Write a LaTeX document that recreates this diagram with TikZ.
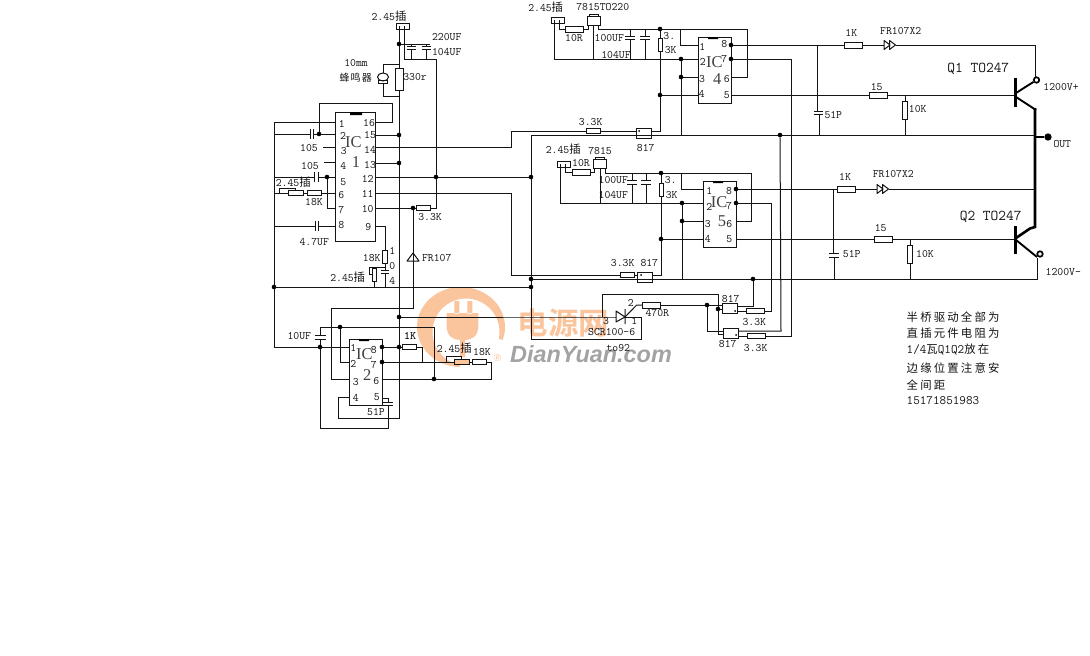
\documentclass[tikz,border=0pt]{standalone}
\usepackage{fontspec}
\usetikzlibrary{shapes.geometric}
\newfontfamily\cjk[LetterSpace=12]{Noto Sans CJK SC}
\newfontfamily\cjkn[LetterSpace=19]{Noto Sans CJK SC}
\newfontfamily\cjkb{Noto Sans CJK SC Bold}[AutoFakeSlant=0.2,AutoFakeBold=1.5]
\newfontfamily\wmlat{Liberation Sans}[Scale=1]
\newfontfamily\icfont{Liberation Serif}
\definecolor{wmo}{HTML}{FAC49C}
\definecolor{wmg}{HTML}{A3A3A3}
\definecolor{ink}{HTML}{141414}
\tikzset{
  wire/.style={draw=ink,line width=1pt,line join=miter},
  thick wire/.style={draw=black,line width=2.6pt},
  mid wire/.style={draw=black,line width=1.9pt},
  res/.style 2 args={draw=ink,line width=1pt,rectangle,inner sep=0pt,outer sep=0pt,minimum width=#1,minimum height=#2},
  dot/.style={circle,fill=black,inner sep=0pt,minimum size=4.6pt,outer sep=0pt},
  term/.style={circle,draw=black,line width=1.7pt,inner sep=0pt,minimum size=5.5pt},
  lbl/.style={inner sep=0pt,font=\ttfamily\fontsize{11.4}{12}\selectfont,text=ink},
  note/.style={inner sep=0pt,anchor=west,font=\ttfamily\fontsize{12.8}{13}\selectfont,text=ink},
  big/.style={inner sep=0pt,font=\icfont\fontsize{16.5}{17}\selectfont,text=black!75},
  qlbl/.style={inner sep=0pt,font=\ttfamily\fontsize{15}{16}\selectfont,text=ink},
}
\newcounter{tn}
\newcommand\T[3]{\stepcounter{tn}\node[lbl] (t\arabic{tn}) at (#1,#2) {#3};}
\newcommand\TB[3]{\stepcounter{tn}\node[big] (t\arabic{tn}) at (#1,#2) {#3};}
\newcommand\TW[3]{\stepcounter{tn}\node[note] (t\arabic{tn}) at (#1,#2) {#3};}
% horizontal-plate capacitor: name,x,y top,y bottom,half width
\newcommand\capH[5]{\coordinate (#1a) at (#2,#3);\coordinate (#1b) at (#2,#4);
  \draw[wire] (#2-#5,#3)--(#2+#5,#3) (#2-#5,#4)--(#2+#5,#4);}
% vertical-plate capacitor: name,x left,x right,y,half height
\newcommand\capV[5]{\coordinate (#1a) at (#2,#4);\coordinate (#1b) at (#3,#4);
  \draw[wire] (#2,#4-#5)--(#2,#4+#5) (#3,#4-#5)--(#3,#4+#5);}
% double diode: name,x,y
\newcommand\dbl[3]{\coordinate (#1a) at (#2,#3);\coordinate (#1b) at (#2+11.5,#3);
  \draw[wire,line join=round] (#2,#3-4.5)--(#2+6,#3)--(#2,#3+4.5)--cycle (#2+5.5,#3-4.5)--(#2+11.5,#3)--(#2+5.5,#3+4.5)--cycle;}
\begin{document}
\begin{tikzpicture}[x=1pt,y=-1pt]
\useasboundingbox (0,0) rectangle (1090,656);
\fill[white] (0,0) rectangle (1090,656);
% --- watermark
\fill[wmo,even odd rule] (461,327) ellipse [x radius=44,y radius=40] (466,332) circle [radius=33.5];
\fill[white] (466,333) -- (456,390) -- (530,390) -- (530,345) -- cycle;
\fill[wmo] (454.3,301) rectangle (459.3,314) (467.3,301) rectangle (472.3,314)
  (446.7,313) -- (478.3,313) -- (478.3,326) .. controls (478.3,336) and (472,340) .. (465,340) -- (465,357) -- (460,357) -- (460,340) .. controls (453,340) and (446.7,336) .. (446.7,326) -- cycle;
\node[inner sep=0pt,text=wmo,font=\cjkb\fontsize{30.5}{30}\selectfont] (wm1) at (563.5,323) {电源网};
\node[inner sep=0pt,text=wmg,font=\wmlat\bfseries\itshape\fontsize{23.4}{24}\selectfont] (wm2) at (591,354.5) {DianYuan.com};
\node[inner sep=0pt,text=wmo,font=\wmlat\fontsize{10}{10}\selectfont] (wm3) at (497.5,358) {®};

% --- coordinates of IC pins
\foreach \n/\y in {1/122,2/134,3/147,4/162,5/177,6/193,7/208,8/226} \coordinate (a\n) at (335,\y);
\foreach \n/\y in {16/122,15/135,14/147,13/163,12/177,11/193,10/208,9/226} \coordinate (a\n) at (375,\y);
\foreach \n/\y in {1/347,2/362,3/379,4/397} \coordinate (b\n) at (349,\y);
\foreach \n/\y in {8/347,7/362,6/379,5/398} \coordinate (b\n) at (382,\y);
\foreach \n/\y in {1/45,2/59,3/77,4/95} \coordinate (d\n) at (698,\y);
\foreach \n/\y in {8/45,7/59,6/77,5/95} \coordinate (d\n) at (731,\y);
\foreach \n/\y in {1/189,2/203,3/221,4/239} \coordinate (e\n) at (703,\y);
\foreach \n/\y in {8/189,7/203,6/221,5/239} \coordinate (e\n) at (736,\y);

% --- ICs
\node[res={40pt}{129pt}] (ic1) at (355,176.5) {};
\node[res={33pt}{66pt}] (ic2) at (365.5,372) {};
\node[res={33pt}{66pt}] (ic4) at (714.5,70) {};
\node[res={33pt}{66pt}] (ic5) at (719.5,214) {};
\fill[black] (350,112) rectangle (362,115) (359,339) rectangle (369,341) (708,37) rectangle (718,39) (713,181) rectangle (723,183);

% --- junctions
\foreach \n/\x/\y in {jA/399/44,jB/399/135,jC/399/163,jD/399/347,jE/399/317,
  jF/319/134,jG/327/177,jH/436/177,jI/413/208,jK/274/287,jL/320/347,jM/340/327,
  jN/382/347,jO/382/362,jP/434/379,jQ/531/177,jR/531/279,jS/531/287,
  jT/660/29,jU/660/95,jV/681/59,jW/681/77,jX/731/45,jY/731/59,
  jZ/661/173,ka/661/239,kb/682/203,kc/682/221,kd/736/189,ke/736/203,
  kf/780/135,kg/753/279,kh/707/305,ki/718/309}
  \node[dot] (\n) at (\x,\y) {};

% --- resistors
\node[res={8pt}{22.5pt}] (r330) at (399,79.5) {};
\node[res={14.5pt}{4.5pt}] (r6a) at (296,193) {};
\node[res={14.5pt}{4.5pt}] (r6b) at (314.5,193) {};
\node[res={14pt}{4.5pt}] (r33a) at (423.5,208) {};
\node[res={4.5pt}{13pt}] (r18) at (385,257) {};
\node[res={4pt}{13pt}] (r18b) at (374,275) {};
\node[res={14.5pt}{5pt}] (r1k) at (409.5,347) {};
\node[res={15.5pt}{4.5pt},fill=wmo] (rb1) at (462,362) {};
\node[res={14.5pt}{5pt}] (rb2) at (479.5,362) {};
\node[res={14.5pt}{5pt}] (r33b) at (593.5,131) {};
\node[res={14.5pt}{5pt}] (r33c) at (627.5,275) {};
\node[res={18pt}{6pt}] (r10a) at (574,29) {};
\node[res={18pt}{6pt}] (r10b) at (581,172) {};
\node[res={4pt}{13pt}] (r3a) at (660,45) {};
\node[res={4pt}{13pt}] (r3b) at (661,189.5) {};
\node[res={18pt}{6pt}] (r470) at (651,305) {};
\node[res={18.5pt}{4.5pt}] (r33d) at (755.5,311) {};
\node[res={18.5pt}{4.5pt}] (r33e) at (756.5,336) {};
\node[res={18.5pt}{6pt}] (r1ka) at (853.5,45) {};
\node[res={18.5pt}{6pt}] (r1kb) at (846.5,189) {};
\node[res={18.5pt}{6pt}] (r15a) at (878.5,95) {};
\node[res={18.5pt}{6pt}] (r15b) at (883.5,239) {};
\node[res={5.5pt}{18pt}] (r10ka) at (905,110) {};
\node[res={5.5pt}{18pt}] (r10kb) at (910,254) {};

% --- connectors, regulators, optos
\node[res={13pt}{6pt}] (c0) at (403,26) {};
\node[res={13pt}{6pt}] (c4) at (558,20.5) {};
\node[res={13pt}{6pt}] (c5) at (564,164.5) {};
\node[res={13pt}{9pt}] (u4) at (593.5,20.5) {};
\node[res={9pt}{2pt}] (u4t) at (593.5,15) {};
\node[res={13pt}{8.5pt}] (u5) at (599.5,164) {};
\node[res={9pt}{2pt}] (u5t) at (599.5,158.8) {};
\node[res={15.5pt}{10pt}] (o1) at (644,133.3) {};
\node[res={15.5pt}{10.5pt}] (o2) at (645,277.5) {};
\node[res={15.5pt}{10pt}] (o3) at (730,308.3) {};
\node[res={15.5pt}{10pt}] (o4) at (731,333.3) {};
\fill[black] (639,131) circle (1) (641,275) circle (1) (735,311) circle (1) (736,335) circle (1);

% --- capacitors
\capH{ca}{411}{46}{49}{4.5}\capH{cb}{426}{46}{49}{4.5}
\capV{c2}{310}{313}{134}{5}\capV{c5x}{314}{318}{177}{5}\capV{c8}{315}{318}{226}{5}
\capH{c9}{385}{270}{273}{4}
\capH{c10}{320}{335}{339}{5.5}\capH{c51}{388}{402}{405}{5}
\capH{cd}{630}{36}{39}{5}\capH{ce}{645}{36}{39}{5}
\capH{cf}{632}{180}{184}{5}\capH{cg}{646}{180}{184}{5}
\capH{ch}{818}{111}{114}{4.5}\capH{ci}{834}{253}{257}{5}

% --- double diodes
\dbl{da}{884}{45}\dbl{db}{877}{189}

% --- top power and IC1
\draw[wire] (399,26)--(jA)--(r330.north) (r330.south)--(jB)--(jC)--(jE)--(jD)--(399,418)--(338,418)--(338,397)--(b4);
\draw[wire] (404,26)--(404,59)--(436,59)--(jH)--(436,208)--(r33a.east);
\draw[wire] (jA)--(430,44) (411,44)--(caa) (cab)--(411,59) (426,44)--(cba) (cbb)--(426,59);
\draw[wire] (399,64)--(383,64)--(383,73);
\node[ellipse,draw=ink,line width=1pt,inner sep=0pt,minimum width=11pt,minimum height=8pt] (bz) at (383,77) {};
\node[res={9.5pt}{2.5pt}] (bzb) at (383,82) {};
\draw[wire] (bzb.south)--(383,96)--(399,96);
\draw[wire] (a1)--(274,122)--(jK)--(274,347)--(jL)--(b1);
\draw[wire] (274,134)--(c2a) (c2b)--(jF)--(a2) (jF)--(319,103)--(392,103)--(392,122)--(a16);
\draw[wire] (323,147)--(a3) (324,162)--(a4);
\draw[wire] (274,177)--(c5xa) (c5xb)--(jG)--(a5) (jG)--(327,208)--(a7);
\draw[wire] (274,193)--(r6a.west) (r6a.east)--(r6b.west) (r6b.east)--(a6);
\draw[wire] (279,193)--(279,188)--(295,188)--(295,190.7);
\draw[wire] (274,226)--(c8a) (c8b)--(a8);
\draw[wire] (a15)--(jB) (a13)--(jC);
\draw[wire] (a14)--(511,147)--(511,131)--(r33b.west) (r33b.east)--(636.2,131);
\draw[wire] (a12)--(jH)--(jQ);
\draw[wire] (a11)--(511,193)--(511,275)--(r33c.west) (r33c.east)--(637.2,275);
\draw[wire] (a10)--(jI)--(r33a.west);
\draw[wire] (jI)--(413,308)--(331,308)--(331,379)--(b3);
\draw[wire,line join=round] (413,253)--(407,261)--(419,261)--cycle;
\draw[wire] (a9)--(385,226)--(r18.north) (r18.south)--(c9a) (c9b)--(385,287);
\draw[wire] (r18b.south)--(374,287) (372,274)--(369,274)--(369,267)--(385,267);
\draw[wire] (jK)--(jS);

% --- IC2
\draw[wire] (320,335)--(320,327)--(jM)--(434,327)--(jP);
\draw[wire] (c10b)--(jL)--(320,428)--(388,428)--(c51b);
\draw[wire] (c51a)--(388,398)--(b5);
\draw[wire] (jM)--(340,362)--(b2);
\draw[wire] (b8)--(jN)--(jD)--(r1k.west) (r1k.east)--(422,347)--(422,362);
\draw[wire] (b7)--(jO)--(rb1.west) (rb1.east)--(rb2.west) (rb2.east)--(491,362)--(491,379)--(jP)--(b6);
\draw[wire] (446,362)--(446,356)--(461,356)--(461,359.7);

% --- long rails
\draw[wire] (1035,135)--(kf)--(531,135)--(jQ)--(jR)--(jS)--(531,339)--(641,339)--(641,317)--(625,317);
\draw[wire] (616,317)--(602,317)--(jE);
\draw[wire] (jR)--(kg)--(1037,279)--(1037,258);

% --- SCR
\draw[wire,line join=round] (616,311)--(625,317)--(616,322)--cycle (625,309)--(625,324);
\draw[wire] (625,317)--(636.7,305)--(r470.west);
\draw[wire] (602,317)--(602,294)--(718,294)--(ki)--(718,334)--(723.2,334);
\draw[wire] (ki)--(722.2,309);
\draw[wire] (r470.east)--(kh)--(722.2,305) (kh)--(707,331)--(723.2,331);
\draw[wire] (737.8,311)--(r33d.west) (r33d.east)--(771,311)--(771,203)--(ke);
\draw[wire] (737.8,306)--(753,306)--(kg);
\draw[wire] (738.8,331)--(781,331)--(kf);
\draw[wire] (738.8,336)--(r33e.west) (r33e.east)--(791,336)--(791,59)--(jY);

% --- IC4 supply
\draw[wire] (554,20)--(554,59)--(jV)--(d2);
\draw[wire] (559,20)--(559,29)--(r10a.west) (r10a.east)--(588,29)--(588,25);
\draw[wire] (593,25)--(593,59);
\draw[wire] (598,25)--(598,29)--(jT)--(747,29)--(747,77)--(d6);
\draw[wire] (680,29)--(680,45)--(d1);
\draw[wire] (630,29)--(cda) (cdb)--(630,59) (645,29)--(cea) (ceb)--(645,59);
\draw[wire] (jT)--(r3a.north) (r3a.south)--(jU)--(660,131)--(651.8,131);
\draw[wire] (jU)--(d4);
\draw[wire] (jV)--(jW)--(681,135) (jW)--(d3);

% --- IC5 supply
\draw[wire] (560,164)--(560,203)--(kb)--(e2);
\draw[wire] (565,164)--(565,172)--(r10b.west) (r10b.east)--(594,172)--(594,168);
\draw[wire] (600,168)--(600,203);
\draw[wire] (605,168)--(605,173)--(jZ)--(751,173)--(751,221)--(e6);
\draw[wire] (681,173)--(681,189)--(e1);
\draw[wire] (632,173)--(cfa) (cfb)--(632,203) (646,173)--(cga) (cgb)--(646,203);
\draw[wire] (jZ)--(r3b.north) (r3b.south)--(ka)--(661,275)--(652.8,275);
\draw[wire] (ka)--(e4);
\draw[wire] (kb)--(kc)--(682,279) (kc)--(e3);

% --- output stages
\draw[wire] (d8)--(jX)--(r1ka.west) (r1ka.east)--(daa) (dab)--(1035,45)--(1035,77);
\draw[wire] (817,45)--(817,111) (chb)--(819,114)--(819,135);
\draw[wire] (d7)--(jY);
\draw[wire] (d5)--(r15a.west) (r15a.east)--(1015,95);
\draw[wire] (905,95)--(r10ka.north) (r10ka.south)--(905,135);
\draw[wire] (e8)--(kd)--(r1kb.west) (r1kb.east)--(dba) (dbb)--(1035,189);
\draw[wire] (833,189)--(833,253) (cib)--(834,279);
\draw[wire] (e7)--(ke);
\draw[wire] (e5)--(r15b.west) (r15b.east)--(1015,239);
\draw[wire] (910,239)--(r10kb.north) (r10kb.south)--(910,279);

% --- transistors and thick bus
\node[term] (q1c) at (1036.5,80) {};
\node[term] (q2e) at (1040,254) {};
\node[term,fill=black] (outc) at (1048,137) {};
\draw[thick wire] (1015.7,78)--(1015.7,107) (1015.7,226)--(1015.7,254);
\draw[mid wire] (1016,93)--(q1c) (1016,97)--(1036,110);
\draw[thick wire] (1035,108)--(1035,227)--(1030,228.5)--(1016,238);
\draw[mid wire] (1016,240)--(1037,257);
\draw[thick wire] (1035,137)--(outc);

% --- labels
\T{389}{16}{2.45{\cjk 插}}
\T{446.7}{36.7}{220UF}\T{446.7}{51.7}{104UF}
\T{415}{77}{330r}\T{356}{63}{10mm}
\node[lbl,font=\cjk\fontsize{10}{10}\selectfont] (tbz) at (355.7,77.3) {蜂鸣器};
\T{341.7}{124.3}{1}\T{343}{136}{2}\T{343.7}{151}{3}\T{343.3}{166}{4}\T{343.3}{181.7}{5}\T{341.3}{195.3}{6}\T{341.3}{210}{7}\T{341.3}{225}{8}
\T{369}{123.3}{16}\T{370}{135}{15}\T{370}{150}{14}\T{370}{165}{13}\T{367.7}{179.3}{12}\T{367.7}{194}{11}\T{367.7}{209.3}{10}\T{368.3}{227.3}{9}
\TB{353.3}{141.7}{IC}\TB{356}{162.3}{1}
\T{309}{148.3}{105}\T{310}{166}{105}\T{293.3}{182.3}{2.45{\cjk 插}}\T{314}{202.3}{18K}\T{314.3}{241.7}{4.7UF}
\T{430}{216.7}{3.3K}\T{436.7}{257.7}{FR107}
\T{371.7}{257.7}{18K}\T{392.3}{250.7}{1}\T{392.3}{265.7}{0}\T{392.3}{280.7}{4}\T{347.7}{276.7}{2.45{\cjk 插}}
\T{299.3}{335.7}{10UF}
\node[lbl,font=\ttfamily\bfseries\fontsize{11.4}{12}\selectfont] (t1k) at (410,335.7) {1K};
\T{353.3}{348.3}{1}\T{353.3}{364}{2}\T{355.7}{382.3}{3}\T{355.7}{397.7}{4}\T{373.7}{350}{8}\T{373.7}{365}{7}\T{376.3}{381.3}{6}\T{376.7}{396.7}{5}
\TB{364.3}{354.3}{IC}\TB{367.3}{375}{2}
\T{376}{412.3}{51P}\T{454.3}{348.3}{2.45{\cjk 插}}\T{482}{351.7}{18K}
\T{545.7}{7.3}{2.45{\cjk 插}}\T{602.7}{7.3}{7815TO220}
\T{574}{38.3}{10R}\T{609.3}{38.3}{100UF}\T{616}{54.7}{104UF}\T{669.3}{36}{3.}\T{670.7}{50}{3K}
\T{590.7}{121.7}{3.3K}\T{645.7}{147.7}{817}
\T{702.3}{46.7}{1}\T{702.7}{61.7}{2}\T{702}{78.7}{3}\T{701.7}{94}{4}\T{724.3}{44.3}{8}\T{724.3}{59}{7}\T{726.7}{79.3}{6}\T{726.7}{95}{5}
\TB{714.3}{61.7}{IC}\TB{717.3}{79}{4}
\T{563.3}{149.3}{2.45{\cjk 插}}\T{600}{150.7}{7815}\T{581}{162.7}{10R}
\T{613.3}{180}{100UF}\T{613.3}{195.3}{104UF}\T{670.7}{180}{3.}\T{671.7}{195.3}{3K}
\T{622.7}{262.7}{3.3K}\T{649.3}{262.7}{817}
\T{709.3}{191}{1}\T{709.3}{207}{2}\T{707.7}{223.7}{3}\T{707.7}{238.7}{4}\T{729}{190.7}{8}\T{729}{206.3}{7}\T{729.3}{223.7}{6}\T{729.3}{238.7}{5}
\TB{719}{201.7}{IC}\TB{722}{221}{5}
\T{730.7}{299}{817}\T{754.3}{322.3}{3.3K}\T{727.7}{344.3}{817}\T{755.7}{347.7}{3.3K}
\T{657.3}{313.3}{470R}\T{630.7}{303.3}{2}\T{606}{321}{3}\T{634.3}{321}{1}\T{611.7}{332.5}{SCR100-6}\T{618.3}{347.7}{to92}
\T{851.3}{32.7}{1K}\T{900.7}{30.7}{FR107X2}\T{833.3}{115}{51P}\T{876.7}{86.7}{15}\T{917.7}{109.3}{10K}
\T{845}{176.7}{1K}\T{893.3}{174.3}{FR107X2}\T{851.7}{254.3}{51P}\T{880.7}{227.7}{15}\T{925}{253.7}{10K}
\T{1061}{86.7}{1200V+}\T{1062.3}{144.3}{OUT}\T{1063.3}{271.7}{1200V-}
\node[qlbl] (q1t) at (978.3,69.3) {Q1 TO247};
\node[qlbl] (q2t) at (990.7,216.7) {Q2 TO247};
\TW{906.5}{316.7}{\cjkn\fontsize{11.4}{12}\selectfont 半桥驱动全部为}
\TW{906.5}{332.7}{\cjkn\fontsize{11.4}{12}\selectfont 直插元件电阻为}
\TW{906.5}{349.3}{1/4{\cjkn\fontsize{11.4}{12}\selectfont 瓦}Q1Q2{\cjkn\fontsize{11.4}{12}\selectfont 放在}}
\TW{906.5}{368}{\cjkn\fontsize{11.4}{12}\selectfont 边缘位置注意安}
\TW{906.5}{385}{\cjkn\fontsize{11.4}{12}\selectfont 全间距}
\TW{906.5}{401}{15171851983}
\end{tikzpicture}
\end{document}
